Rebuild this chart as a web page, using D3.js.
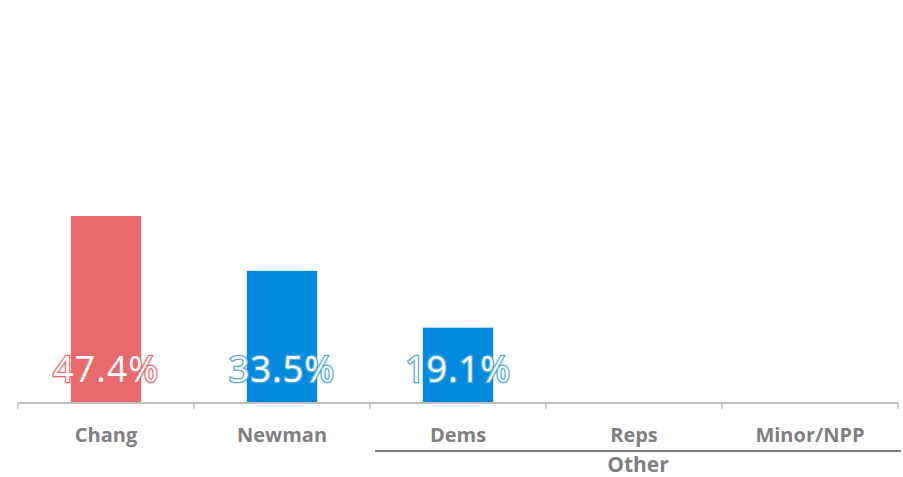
<!DOCTYPE html>
<html><head><meta charset="utf-8">
<script src="https://cdn.jsdelivr.net/npm/d3@7"></script>
<style>body{margin:0;background:#fff}svg{display:block}</style>
</head><body>
<svg id="c" width="903" height="477"></svg>
<script>
const categories = ["Chang","Newman","Dems","Reps","Minor/NPP"];
const values = [47.4, 33.5, 19.1, null, null];
const valueLabels = ["47.4%","33.5%","19.1%","",""];
const barColors = ["#E96A6B","#0389DE","#0389DE","#0389DE","#0389DE"];
const labelStroke = ["#E96A6B","#4AA9DF","#4AA9DF","#4AA9DF","#4AA9DF"];
const groupName = "Other";
const groupMembers = ["Dems","Reps","Minor/NPP"];

const svg = d3.select("#c");
const x = d3.scaleBand().domain(categories).range([18, 898]).paddingInner(0).paddingOuter(0);
const y = d3.scaleLinear().domain([0, 100]).range([403, 8.5]);
const font = "'Open Sans', 'Noto Sans', sans-serif";
const bw = x.bandwidth() * 0.4;

svg.selectAll("rect.bar").data(categories.filter((c,i)=>values[i]!=null)).join("rect")
  .attr("class","bar")
  .attr("x", c => x(c) + (x.bandwidth()-bw)/2)
  .attr("width", bw)
  .attr("y", c => y(values[categories.indexOf(c)]))
  .attr("height", c => y(0) - y(values[categories.indexOf(c)]))
  .attr("fill", c => barColors[categories.indexOf(c)]);

// axis
const ax = svg.append("g").attr("transform","translate(0,403)");
ax.append("line").attr("x1",18).attr("x2",898).attr("y1",0).attr("y2",0).attr("stroke","#BFBFBF").attr("stroke-width",2);
const ticks = categories.map(c=>x(c)).concat([x.range()[1]]);
ax.selectAll("line.t").data(ticks).join("line").attr("class","t")
  .attr("x1",d=>d).attr("x2",d=>d).attr("y1",0).attr("y2",6).attr("stroke","#BFBFBF").attr("stroke-width",1.5);
ax.selectAll("text.cat").data(categories).join("text").attr("class","cat")
  .attr("x", c => x(c)+x.bandwidth()/2).attr("y", 38.5)
  .attr("text-anchor","middle").attr("font-family",font).attr("font-weight","bold")
  .attr("font-size",20).attr("fill","#7F7F7F").text(c=>c);

// group
const gx0 = x(groupMembers[0]) + 5, gx1 = x(groupMembers[groupMembers.length-1]) + x.bandwidth() + 3;
svg.append("line").attr("x1",gx0).attr("x2",gx1).attr("y1",451).attr("y2",451).attr("stroke","#808080").attr("stroke-width",2);
svg.append("text").attr("x",(gx0+gx1)/2).attr("y",472).attr("text-anchor","middle")
  .attr("font-family",font).attr("font-weight","bold").attr("font-size",21).attr("fill","#7F7F7F").text(groupName);

// value labels
svg.selectAll("text.val").data(categories.filter((c,i)=>values[i]!=null)).join("text").attr("class","val")
  .attr("x", c => x(c)+x.bandwidth()/2).attr("y", 382)
  .attr("text-anchor","middle").attr("font-family",font).attr("font-size",36)
  .attr("fill","#fff").attr("stroke", c=>labelStroke[categories.indexOf(c)]).attr("stroke-width",2.6)
  .attr("paint-order","stroke").attr("letter-spacing",1)
  .text(c=>valueLabels[categories.indexOf(c)]);
</script>
</body></html>
